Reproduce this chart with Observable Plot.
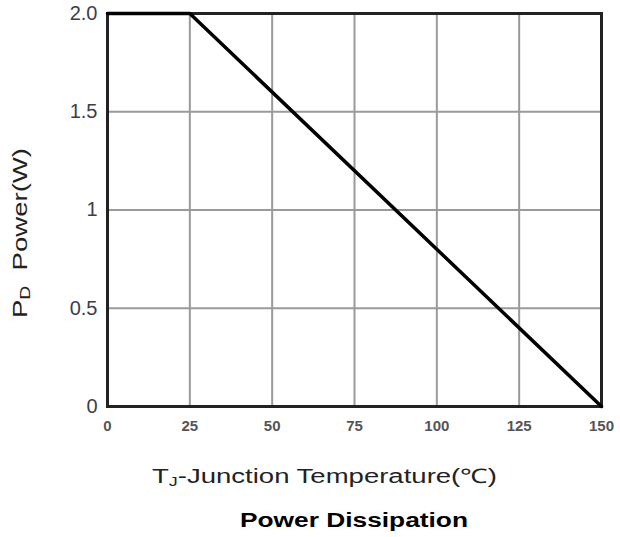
<!DOCTYPE html>
<html>
<head>
<meta charset="utf-8">
<script src="https://cdn.jsdelivr.net/npm/d3@7"></script>
<script src="https://cdn.jsdelivr.net/npm/@observablehq/plot@0.6"></script>
<style>
  html, body { margin: 0; padding: 0; background: #fff; }
  #chart svg { display: block; font-family: "Liberation Sans", Arial, sans-serif; }
</style>
</head>
<body>
<div id="chart"></div>
<script>
// Data
const tempC = [0, 25, 150];
const powerW = [2.0, 2.0, 0];
const xTicks = [0, 25, 50, 75, 100, 125, 150];
const yTicks = [0, 0.5, 1, 1.5, 2];
const yTickLabels = ["0", "0.5", "1", "1.5", "2.0"];
const xGrid = [25, 50, 75, 100, 125];
const yGrid = [0.5, 1, 1.5];
const titleText = "Power Dissipation";
const xLabelMain = "T";
const xLabelSub = "J";
const xLabelRest = "-Junction Temperature(\u2103)";
const yLabelMain = "P";
const yLabelSub = "D";
const yLabelRest = "\u00a0\u00a0Power(W)";

const data = tempC.map((t, i) => ({t, p: powerW[i]}));

const chart = Plot.plot({
  width: 620,
  height: 537,
  marginLeft: 107,
  marginRight: 19,
  marginTop: 13,
  marginBottom: 131,
  style: {background: "#fff", fontFamily: "Liberation Sans, Arial, sans-serif"},
  x: {domain: [0, 150]},
  y: {domain: [0, 2]},
  marks: [
    Plot.gridX(xGrid, {stroke: "#9a9a9a", strokeOpacity: 1, strokeWidth: 2}),
    Plot.gridY(yGrid, {stroke: "#9a9a9a", strokeOpacity: 1, strokeWidth: 2}),
    Plot.frame({stroke: "#222", strokeWidth: 3}),
    Plot.axisX(xTicks, {tickSize: 0, tickPadding: 14, label: null, fontSize: 15, fontWeight: "bold", fill: "#555", letterSpacing: 2}),
    Plot.axisY(yTicks, {tickSize: 0, tickPadding: 10, label: null, fontSize: 20, fill: "#3d3d4a",
      tickFormat: (d) => yTickLabels[yTicks.indexOf(d)]}),
    Plot.line(data, {x: "t", y: "p", stroke: "#000", strokeWidth: 3.5, strokeLinejoin: "round", strokeLinecap: "round"})
  ]
});

const svg = d3.select(chart);

// X axis label with subscript
const xl = svg.append("text")
  .attr("x", 152).attr("y", 483)
  .attr("text-anchor", "start")
  .attr("font-size", 20).attr("fill", "#222")
  .attr("textLength", 345).attr("lengthAdjust", "spacingAndGlyphs");
xl.append("tspan").text(xLabelMain);
xl.append("tspan").attr("font-size", 13).attr("dy", 3).text(xLabelSub);
xl.append("tspan").attr("dy", -3).text(xLabelRest);

// Y axis label rotated with subscript
const yl = svg.append("text")
  .attr("transform", "translate(27,318) rotate(-90)")
  .attr("text-anchor", "start")
  .attr("font-size", 20).attr("fill", "#222")
  .attr("textLength", 170).attr("lengthAdjust", "spacingAndGlyphs");
yl.append("tspan").text(yLabelMain);
yl.append("tspan").attr("font-size", 14).attr("dy", 3).text(yLabelSub);
yl.append("tspan").attr("dy", -3).text(yLabelRest);

// Title below the chart
svg.append("text")
  .attr("x", 240).attr("y", 527)
  .attr("text-anchor", "start")
  .attr("font-size", 20).attr("font-weight", "bold").attr("fill", "#000")
  .attr("textLength", 228).attr("lengthAdjust", "spacingAndGlyphs")
  .text(titleText);

document.getElementById("chart").appendChild(chart);
</script>
</body>
</html>
